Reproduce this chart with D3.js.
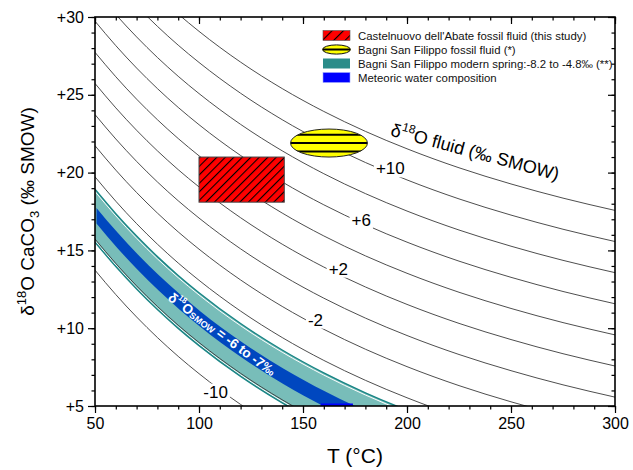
<!DOCTYPE html>
<html><head><meta charset="utf-8">
<script src="https://cdn.jsdelivr.net/npm/d3@7"></script>
<style>body{margin:0;background:#fff} svg{display:block;font-family:"Liberation Sans",Arial,sans-serif}</style>
</head><body><svg id="c" width="633" height="470"></svg>
<script>
// ---- data ----
const temps = [50, 60, 70, 80, 90, 100, 120, 140, 160, 180, 200, 225, 250, 275, 300];
const fluidP12 = [35.73, 34.16, 32.72, 31.40, 30.19, 29.08, 27.10, 25.40, 23.93, 22.65, 21.53, 20.31, 19.27, 18.36, 17.57];
const fluidP10 = [33.73, 32.16, 30.72, 29.40, 28.19, 27.08, 25.10, 23.40, 21.93, 20.65, 19.53, 18.31, 17.27, 16.36, 15.57];
const fluidP8  = [31.73, 30.16, 28.72, 27.40, 26.19, 25.08, 23.10, 21.40, 19.93, 18.65, 17.53, 16.31, 15.27, 14.36, 13.57];
const fluidP6  = [29.73, 28.16, 26.72, 25.40, 24.19, 23.08, 21.10, 19.40, 17.93, 16.65, 15.53, 14.31, 13.27, 12.36, 11.57];
const fluidP4  = [27.73, 26.16, 24.72, 23.40, 22.19, 21.08, 19.10, 17.40, 15.93, 14.65, 13.53, 12.31, 11.27, 10.36, 9.57];
const fluidP2  = [25.73, 24.16, 22.72, 21.40, 20.19, 19.08, 17.10, 15.40, 13.93, 12.65, 11.53, 10.31, 9.27, 8.36, 7.57];
const fluid0   = [23.73, 22.16, 20.72, 19.40, 18.19, 17.08, 15.10, 13.40, 11.93, 10.65, 9.53, 8.31, 7.27, 6.36, 5.57];
const fluidM2  = [21.73, 20.16, 18.72, 17.40, 16.19, 15.08, 13.10, 11.40, 9.93, 8.65, 7.53, 6.31, 5.27, 4.36, 3.57];
const fluidM4  = [19.73, 18.16, 16.72, 15.40, 14.19, 13.08, 11.10, 9.40, 7.93, 6.65, 5.53, 4.31, 3.27, 2.36, 1.57];
const fluidM8  = [15.73, 14.16, 12.72, 11.40, 10.19, 9.08, 7.10, 5.40, 3.93, 2.65, 1.53, 0.31, -0.73, -1.64, -2.43];
const fluidM10 = [13.73, 12.16, 10.72, 9.40, 8.19, 7.08, 5.10, 3.40, 1.93, 0.65, -0.47, -1.69, -2.73, -3.64, -4.43];
// Bagni San Filippo modern spring band (-8.2 to -4.8 permil)
const springUpper = [18.93, 17.36, 15.92, 14.60, 13.39, 12.28, 10.30, 8.60, 7.13, 5.85, 4.73, 3.51, 2.47, 1.56, 0.77];
const springLower = [15.53, 13.96, 12.52, 11.20, 9.99, 8.88, 6.90, 5.20, 3.73, 2.45, 1.33, 0.11, -0.93, -1.84, -2.63];
// meteoric band (-6 to -7 permil)
const meteoricUpper = [17.73, 16.16, 14.72, 13.40, 12.19, 11.08, 9.10, 7.40, 5.93, 4.65, 3.53, 2.31, 1.27, 0.36, -0.43];
const meteoricLower = [16.73, 15.16, 13.72, 12.40, 11.19, 10.08, 8.10, 6.40, 4.93, 3.65, 2.53, 1.31, 0.27, -0.64, -1.43];
// fossil fluid boxes
const castelnuovoT = [100, 141];
const castelnuovoD = [18.1, 21.0];
const bagniT = [144, 181];
const bagniD = [21.0, 22.8];
// isoline labels
const labelTexts = ["+10", "+6", "+2", "-2", "-10"];
const labelT = [192, 178, 167, 156, 108];
const labelD = [20.24, 16.89, 13.80, 10.52, 5.89];
// axes
const xMajor = [50, 100, 150, 200, 250, 300];
const xMinor = d3.range(50, 301, 10);
const yMajor = [5, 10, 15, 20, 25, 30];
const yMinor = d3.range(5, 31, 1);
const legendLabels = ["Castelnuovo dell'Abate fossil fluid (this study)", "Bagni San Filippo fossil fluid (*)",
  "Bagni San Filippo modern spring:-8.2 to -4.8\u2030 (**)", "Meteoric water composition"];

const isolines = [fluidP12, fluidP10, fluidP8, fluidP6, fluidP4, fluidP2, fluid0, fluidM2, fluidM4, fluidM10];

// ---- drawing ----
const svg = d3.select("#c");
const x = d3.scaleLinear().domain([50, 300]).range([95, 615]);
const y = d3.scaleLinear().domain([5, 30]).range([406, 17]);

const defs = svg.append("defs");
defs.append("clipPath").attr("id", "plotclip").append("rect")
  .attr("x", x(50)).attr("y", y(30)).attr("width", x(300) - x(50)).attr("height", y(5) - y(30));
const hatch = defs.append("pattern").attr("id", "hatch").attr("patternUnits", "userSpaceOnUse")
  .attr("width", 6).attr("height", 6).attr("patternTransform", "rotate(45)");
hatch.append("rect").attr("width", 6).attr("height", 6).attr("fill", "#ff0000");
hatch.append("line").attr("x1", 0).attr("y1", 0).attr("x2", 0).attr("y2", 6).attr("stroke", "#000").attr("stroke-width", 2.2);
const hatch2 = defs.append("pattern").attr("id", "hatch2").attr("patternUnits", "userSpaceOnUse")
  .attr("width", 8).attr("height", 8).attr("patternTransform", "rotate(45)");
hatch2.append("rect").attr("width", 8).attr("height", 8).attr("fill", "#ff0000");
hatch2.append("line").attr("x1", 0).attr("y1", 0).attr("x2", 0).attr("y2", 8).attr("stroke", "#000").attr("stroke-width", 2.2);

const plot = svg.append("g").attr("clip-path", "url(#plotclip)");
const line = d3.line().x((d, i) => x(temps[i])).y(d => y(d)).curve(d3.curveMonotoneX);

plot.selectAll("path.iso").data(isolines).join("path").attr("class", "iso")
  .attr("d", d => line(d)).attr("fill", "none").attr("stroke", "#3a3a3a").attr("stroke-width", 0.9);

// spring band
const area = d3.area().x((d, i) => x(temps[i])).y0(d => y(d[0])).y1(d => y(d[1])).curve(d3.curveMonotoneX);
const springData = temps.map((t, i) => [springLower[i], springUpper[i]]);
plot.append("path").attr("d", area(springData)).attr("fill", "#78bdb9");
plot.append("path").attr("d", line(springUpper)).attr("fill", "none").attr("stroke", "#fff").attr("stroke-width", 1).attr("transform", "translate(0,2.2)");
plot.append("path").attr("d", line(springLower)).attr("fill", "none").attr("stroke", "#fff").attr("stroke-width", 1).attr("transform", "translate(0,-1.6)");
plot.append("path").attr("d", line(fluidM8)).attr("fill", "none").attr("stroke", "#3a3a3a").attr("stroke-width", 0.9);
plot.append("path").attr("d", line(springUpper)).attr("fill", "none").attr("stroke", "#1a8585").attr("stroke-width", 1.4);
plot.append("path").attr("d", line(springLower)).attr("fill", "none").attr("stroke", "#1a8585").attr("stroke-width", 1.4);
// meteoric band
const metData = temps.map((t, i) => [meteoricLower[i], meteoricUpper[i]]);
plot.append("path").attr("d", area(metData)).attr("fill", "#0047bf").attr("transform", "translate(1.5,0)");
plot.append("rect").attr("x", x(158.5)).attr("y", y(5) - 2.5).attr("width", x(174) - x(158.5)).attr("height", 2.5).attr("fill", "#0000ff");

// band text
const bandT = 111.1, bandD = 9.63;
const bt = svg.append("text").attr("transform", `translate(${x(bandT)},${y(bandD)}) rotate(36.5)`)
  .attr("text-anchor", "middle").attr("dominant-baseline", "central").attr("fill", "#fff")
  .attr("font-size", 13.5).attr("font-weight", "bold");
bt.append("tspan").text("\u03b4");
bt.append("tspan").attr("font-size", 8).attr("dy", -5).text("18");
bt.append("tspan").attr("dy", 5).text("O");
bt.append("tspan").attr("font-size", 9).attr("dy", 3).text("SMOW");
bt.append("tspan").attr("dy", -3).text(" = -6 to -7\u2030");

// isoline labels with white masks
labelTexts.forEach((t, i) => {
  const g = svg.append("g");
  const r = g.append("rect").attr("fill", "#fff");
  const tx = g.append("text").attr("x", x(labelT[i])).attr("y", y(labelD[i]))
    .attr("text-anchor", "middle").attr("dominant-baseline", "central").attr("font-size", 17).attr("fill", "#000").text(t);
  const b = tx.node().getBBox();
  r.attr("x", b.x - 2).attr("y", b.y + 1).attr("width", b.width + 4).attr("height", b.height - 2);
});

// fluid title
const ftT = 232, ftD = 20.94;
const ft = svg.append("text").attr("transform", `translate(${x(ftT)},${y(ftD)}) rotate(15)`)
  .attr("text-anchor", "middle").attr("font-size", 18).attr("fill", "#000");
ft.append("tspan").text("\u03b4");
ft.append("tspan").attr("font-size", 12).attr("dy", -8).text("18");
ft.append("tspan").attr("dy", 8).text("O fluid (\u2030 SMOW)");

// Castelnuovo box
svg.append("rect").attr("x", x(castelnuovoT[0])).attr("y", y(castelnuovoD[1]))
  .attr("width", x(castelnuovoT[1]) - x(castelnuovoT[0])).attr("height", y(castelnuovoD[0]) - y(castelnuovoD[1]))
  .attr("fill", "url(#hatch)").attr("stroke", "#444").attr("stroke-width", 1);

// Bagni ellipse
const ecx = x((bagniT[0] + bagniT[1]) / 2), ecy = y((bagniD[0] + bagniD[1]) / 2);
const erx = (x(bagniT[1]) - x(bagniT[0])) / 2, ery = (y(bagniD[0]) - y(bagniD[1])) / 2;
defs.append("clipPath").attr("id", "eclip").append("ellipse").attr("cx", ecx).attr("cy", ecy).attr("rx", erx).attr("ry", ery);
svg.append("ellipse").attr("cx", ecx).attr("cy", ecy).attr("rx", erx).attr("ry", ery).attr("fill", "#ffff00");
const eg = svg.append("g").attr("clip-path", "url(#eclip)");
[-0.6, 0, 0.6].forEach(k => eg.append("line").attr("x1", ecx - erx).attr("x2", ecx + erx)
  .attr("y1", ecy + k * ery).attr("y2", ecy + k * ery).attr("stroke", "#000").attr("stroke-width", 2));
svg.append("ellipse").attr("cx", ecx).attr("cy", ecy).attr("rx", erx).attr("ry", ery).attr("fill", "none").attr("stroke", "#222").attr("stroke-width", 1);

// legend
const lg = svg.append("g");
const ly = [35.5, 49.5, 63.5, 77.5];
lg.append("rect").attr("x", 323).attr("y", ly[0] - 5).attr("width", 27).attr("height", 10).attr("fill", "url(#hatch2)").attr("stroke", "#555").attr("stroke-width", 0.6);
lg.append("ellipse").attr("cx", 336.5).attr("cy", ly[1]).attr("rx", 14).attr("ry", 4.6).attr("fill", "#ffff00").attr("stroke", "#111").attr("stroke-width", 1);
lg.append("line").attr("x1", 323).attr("x2", 350).attr("y1", ly[1]).attr("y2", ly[1]).attr("stroke", "#000").attr("stroke-width", 2);
lg.append("rect").attr("x", 323).attr("y", ly[2] - 5).attr("width", 27).attr("height", 10).attr("fill", "#2a8c89");
lg.append("rect").attr("x", 323).attr("y", ly[3] - 5).attr("width", 27).attr("height", 10).attr("fill", "#0000ff").attr("stroke", "#9fa8ff").attr("stroke-width", 0.6);
lg.selectAll("text").data(legendLabels).join("text").attr("x", 358).attr("y", (d, i) => ly[i])
  .attr("dominant-baseline", "central").attr("font-size", 11.4).attr("fill", "#111").text(d => d);

// axes
function styleAxis(g) { g.select(".domain").remove(); g.selectAll("line").attr("stroke", "#000").attr("stroke-width", 1.2); g.selectAll("text").attr("fill", "#000"); }
svg.append("g").attr("transform", `translate(0,${y(5)})`).call(d3.axisBottom(x).tickValues(xMinor).tickSize(3.5).tickFormat("")).call(styleAxis);
svg.append("g").attr("transform", `translate(0,${y(5)})`).call(d3.axisBottom(x).tickValues(xMajor).tickSize(7).tickPadding(5).tickFormat(d => d))
  .call(styleAxis).selectAll("text").attr("font-size", 16).attr("font-family", "Liberation Sans, Arial, sans-serif");
svg.append("g").attr("transform", `translate(0,${y(30)})`).call(d3.axisTop(x).tickValues(xMinor).tickSize(-3.5).tickFormat("")).call(styleAxis);
svg.append("g").attr("transform", `translate(0,${y(30)})`).call(d3.axisTop(x).tickValues(xMajor).tickSize(-7).tickFormat("")).call(styleAxis);
svg.append("g").attr("transform", `translate(${x(50)},0)`).call(d3.axisLeft(y).tickValues(yMinor).tickSize(3.5).tickFormat("")).call(styleAxis);
svg.append("g").attr("transform", `translate(${x(50)},0)`).call(d3.axisLeft(y).tickValues(yMajor).tickSize(7).tickPadding(4).tickFormat(d => "+" + d))
  .call(styleAxis).selectAll("text").attr("font-size", 16).attr("font-family", "Liberation Sans, Arial, sans-serif");
svg.append("g").attr("transform", `translate(${x(300)},0)`).call(d3.axisRight(y).tickValues(yMinor).tickSize(-3.5).tickFormat("")).call(styleAxis);
svg.append("g").attr("transform", `translate(${x(300)},0)`).call(d3.axisRight(y).tickValues(yMajor).tickSize(-7).tickFormat("")).call(styleAxis);
svg.append("rect").attr("x", x(50)).attr("y", y(30)).attr("width", x(300) - x(50)).attr("height", y(5) - y(30))
  .attr("fill", "none").attr("stroke", "#000").attr("stroke-width", 1.6);

// axis titles
svg.append("text").attr("x", (x(50) + x(300)) / 2 + 0).attr("y", 463).attr("text-anchor", "middle").attr("font-size", 21).attr("fill", "#000").text("T (\u00b0C)");
const yt = svg.append("text").attr("transform", `translate(34,${(y(5) + y(30)) / 2}) rotate(-90)`).attr("text-anchor", "middle").attr("font-size", 19).attr("fill", "#000");
yt.append("tspan").text("\u03b4");
yt.append("tspan").attr("font-size", 13).attr("dy", -8).text("18");
yt.append("tspan").attr("dy", 8).text("O CaCO");
yt.append("tspan").attr("font-size", 13).attr("dy", 5).text("3");
yt.append("tspan").attr("dy", -5).text(" (\u2030 SMOW)");
</script></body></html>
